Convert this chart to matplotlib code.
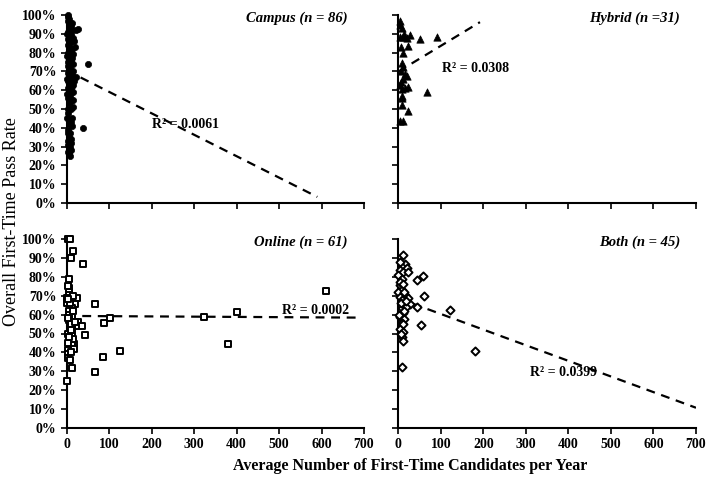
import matplotlib
matplotlib.use("Agg")
import matplotlib.pyplot as plt
import numpy as np

plt.rcParams['font.family'] = ['Liberation Serif', 'DejaVu Serif']

# ---------------- data ----------------
campus_x = [2, 4, 6, 3, 8, 5, 10, 7, 12, 22, 26, 3, 9, 6, 14, 4, 11, 8, 2, 5, 20, 13, 7, 10, 3, 15, 6, 12, 9, 4,
            51, 14, 2, 8, 5, 11, 16, 3, 7, 13, 22, 1, 9, 4, 17, 6, 12, 2, 10, 15, 5, 8, 3, 14, 11, 6, 16, 2, 9, 4,
            13, 7, 10, 5, 12, 38, 3, 8, 6, 11, 2, 9, 4, 7, 10, 3, 5, 8, 1, 1, 1, 1, 13, 18, 2, 14]
campus_y = [100, 99, 98, 97, 96, 95, 94, 93, 92, 92, 92.5, 91, 90, 89, 88, 87, 86, 85, 84, 83, 83, 82, 81, 80, 80, 79, 78, 77, 76, 75,
            74, 74, 73, 72, 71, 70, 70, 69, 68, 68, 67, 66, 66, 65, 65, 63, 62, 61, 60, 59, 58, 57, 56, 55, 54, 53, 51, 50, 50, 48,
            45, 44, 43, 42, 41, 40, 39, 37, 35, 34, 33, 32, 31, 30, 28, 27, 26, 25, 90, 78, 58, 45, 96, 86, 37, 63]

hybrid_x = [4, 9, 4, 12, 20, 27, 51, 90, 6, 22, 8, 12, 16, 20, 12, 6, 22, 8, 16, 67, 8, 8, 23, 4, 12,
            3, 10, 6, 14, 5, 9]
hybrid_y = [94.7, 92.9, 88.5, 88.5, 88, 89.4, 87.3, 88.1, 83.2, 83.7, 74.3, 72.6, 68.5, 67.8, 66, 64.2, 61.9, 60.7, 61, 58.9,
            56.1, 52.2, 49, 43.4, 43.4, 97, 80, 70, 90, 63, 57]

online_x = [2, 8, 16, 9, 39, 5.5, 5.5, 5.5, 5.5, 1.6, 9.4, 17, 25, 1.6, 13, 20, 67, 12, 8, 12, 5.5, 26, 26, 35, 88,
            102, 323, 402, 610, 379, 42, 2, 12, 12, 18, 12, 4, 18, 4, 4, 12, 67, 85, 125, 0,
            3, 6, 10, 15, 3, 7, 14, 5, 9, 20, 11, 4, 16, 2, 8, 6]
online_y = [100, 100, 93.8, 90, 86.6, 78.8, 73.9, 72, 70.3, 68.6, 68, 68.6, 68.6, 65.9, 65.9, 65.5, 65.4, 63.3, 60.6, 59.2,
            57, 56.2, 54, 54, 55.8, 58, 58.8, 61.5, 72.5, 44.7, 49, 50, 50, 51.8, 44.7, 43.8, 41.2, 42, 38.9, 37.1,
            31.8, 29.7, 37.6, 40.8, 24.7,
            75, 62, 55, 47, 45, 66, 70, 60, 52, 56, 40, 68, 62, 58, 36, 48]

both_x = [12, 16, 8, 20, 4, 12, 22, 0, 8, 43, 59, 4, 8, 0, 16, 4, 23, 61, 8, 27, 45, 121, 8, 12, 4, 14, 53, 8, 4,
          12, 9, 12, 180, 8, 3, 10, 14, 6, 18, 2, 11, 6, 17, 5, 13]
both_y = [91.5, 87, 85, 84.5, 83.6, 82.7, 82.3, 81, 79, 78.3, 80.6, 75.6, 73, 72, 70.3, 69.4, 68.9, 69.8, 67.7, 65.4,
          64.1, 62.4, 63.3, 60.6, 58.8, 57.6, 54.4, 55.3, 52.3, 50.9, 48.2, 46, 40.8, 32.3,
          77, 76, 72, 66, 64, 60, 55, 50, 67, 88, 62]

# linear trendlines (intercept %, slope %/unit, x-range)
trend_intercept = {'campus': 70.5, 'hybrid': 69.9, 'online': 59.3, 'both': 68.6}
trend_slope = {'campus': -0.114, 'hybrid': 0.137, 'online': -0.0013, 'both': -0.0827}
trend_xend = {'campus': 590, 'hybrid': 192, 'online': 690, 'both': 700}
r2_text = {'campus': 'R² = 0.0061', 'hybrid': 'R² = 0.0308', 'online': 'R² = 0.0002', 'both': 'R² = 0.0399'}
r2_pos = {'campus': (200, 41.5), 'hybrid': (102, 71.6), 'online': (507, 62), 'both': (310, 29.5)}
titles = {'campus': 'Campus (n = 86)', 'hybrid': 'Hybrid (n =31)', 'online': 'Online (n = 61)', 'both': 'Both (n = 45)'}

x_ticks = [0, 100, 200, 300, 400, 500, 600, 700]
y_ticks = [0, 10, 20, 30, 40, 50, 60, 70, 80, 90, 100]

# ---------------- figure ----------------
W, H = 708, 479
fig = plt.figure(figsize=(W / 100, H / 100), dpi=100)

def rect(x0, y0, x1, y1):
    return [x0 / W, 1 - y1 / H, (x1 - x0) / W, (y1 - y0) / H]

axes = {
    'campus': fig.add_axes(rect(66.7, 15, 364, 203)),
    'hybrid': fig.add_axes(rect(398.3, 15, 696, 203)),
    'online': fig.add_axes(rect(66.7, 239, 364, 428)),
    'both': fig.add_axes(rect(398.3, 239, 696, 428)),
}

series = {
    'campus': (campus_x, campus_y, dict(marker='o', s=20, facecolor='black', edgecolor='black', linewidths=0.5)),
    'hybrid': (hybrid_x, hybrid_y, dict(marker='^', s=28, facecolor='black', edgecolor='black', linewidths=0.5)),
    'online': (online_x, online_y, dict(marker='s', s=20, facecolor='white', edgecolor='black', linewidths=1.4)),
    'both': (both_x, both_y, dict(marker='D', s=17, facecolor='white', edgecolor='black', linewidths=1.4)),
}

for key, ax in axes.items():
    xs, ys, kw = series[key]
    ax.scatter(xs, ys, zorder=3, clip_on=False, **kw)
    xt = np.array([0, trend_xend[key]])
    ax.plot(xt, trend_intercept[key] + trend_slope[key] * xt, color='black', lw=1.6,
            ls=(0, (4, 3)), zorder=2)
    ax.text(r2_pos[key][0], r2_pos[key][1], r2_text[key], fontsize=10, fontweight='bold',
            ha='left', va='center')
    ax.text(0.946, 1.02, titles[key], transform=ax.transAxes, ha='right', va='top',
            fontsize=10.5, fontweight='bold', fontstyle='italic')
    ax.set_xlim(0, 700)
    ax.set_ylim(0, 100)
    ax.set_xticks(x_ticks)
    ax.set_yticks(y_ticks)
    ax.set_yticklabels([f'{v}%' for v in y_ticks])
    for s in ['top', 'right']:
        ax.spines[s].set_visible(False)
    for s in ['left', 'bottom']:
        ax.spines[s].set_linewidth(1.5)
    ax.tick_params(direction='out', length=4, width=1.2, labelsize=10)
    for lab in ax.get_xticklabels() + ax.get_yticklabels():
        lab.set_fontweight('bold')
    if key in ('campus', 'hybrid'):
        ax.tick_params(labelbottom=False)
    if key in ('hybrid', 'both'):
        ax.tick_params(labelleft=False)

fig.text(12 / W, 1 - 222 / H, 'Overall First-Time Pass Rate', rotation=90, ha='center', va='center',
         fontsize=13)
fig.text(410 / W, 1 - 466 / H, 'Average Number of First-Time Candidates per Year', ha='center', va='center',
         fontsize=11.5, fontweight='bold')

fig.savefig('out.png', dpi=100)
